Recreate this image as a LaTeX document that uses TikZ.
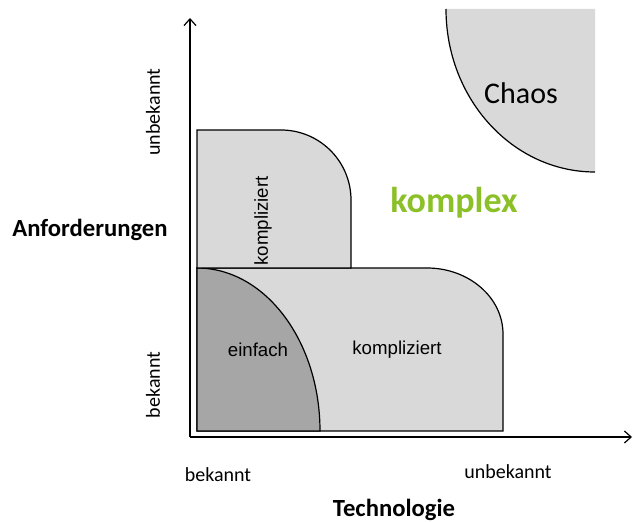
\documentclass[tikz,border=0pt]{standalone}
\usepackage{fontspec}
\setmainfont{Carlito}
\newfontfamily\arialfont{Liberation Sans}
\usetikzlibrary{arrows.meta}
\definecolor{feldhell}{RGB}{217,217,217}
\definecolor{felddunkel}{RGB}{166,166,166}
\definecolor{komplexgruen}{RGB}{140,192,40}
\tikzset{
  feld/.style={draw=black, line width=0.9pt, fill=feldhell},
  achse/.style={line width=0.9pt, -{Straight Barb[length=5pt,width=9pt]}},
  achsenname/.style={font=\bfseries\fontsize{18.5}{20}\selectfont},
  stufe/.style={font=\fontsize{15}{17}\selectfont},
  feldname/.style={font=\arialfont\fontsize{14}{16}\selectfont}
}

\begin{document}
\begin{tikzpicture}[x=0.75pt,y=0.75pt]
			%%%%% START %%%%%
			\useasboundingbox (0,0) rectangle (633,522);
			
			% Chaos
			\fill[feldhell] (446,513) arc[start angle=180,end angle=270,x radius=149,y radius=163] -- (595,513) -- cycle;
			\draw[line width=0.9pt] (446,513) arc[start angle=180,end angle=270,x radius=149,y radius=163];
			\node[font=\fontsize{22.5}{24}\selectfont] (chaos) at (521,429) {Chaos};
			
			% kompliziert (Technologie)
			\draw[feld] (197,91) -- (197,254) -- (427,254) arc[start angle=90,end angle=0,x radius=76,y radius=66] -- (503,91) -- cycle;
			
			% einfach
			\draw[feld, fill=felddunkel] (197,91) -- (197,254) arc[start angle=90,end angle=0,x radius=123,y radius=163] -- cycle;
			
			% kompliziert (Anforderungen)
			\draw[feld] (197,254) -- (197,392) -- (281,392) arc[start angle=90,end angle=0,radius=70] -- (351,254) -- cycle;
			
			\node[feldname] (einfach) at (258,172) {einfach};
			\node[feldname] (kompltech) at (397,172) {kompliziert};
			\node[feldname, rotate=90] (komplanf) at (263,301) {kompliziert};
			
			\node[font=\bfseries\fontsize{27}{30}\selectfont, text=komplexgruen] (komplex) at (454,319) {komplex};
			
			% Achsen
			\coordinate (ursprung) at (190,85);
			\coordinate (yende) at (190,504);
			\coordinate (xende) at (632,85);
			\draw[achse] (ursprung) -- (yende);
			\draw[achse] (ursprung) -- (xende);
			
			\node[stufe, rotate=90] (ybekannt) at (153,137) {bekannt};
			\node[stufe, rotate=90] (yunbekannt) at (153,410) {unbekannt};
			\node[achsenname] (anford) at (90,292) {Anforderungen};
			
			\node[stufe] (xbekannt) at (218,47) {bekannt};
			\node[stufe] (xunbekannt) at (508,50) {unbekannt};
			\node[achsenname] (technik) at (394,12) {Technologie};
			%%%%% END %%%%%
\end{tikzpicture}
\end{document}
